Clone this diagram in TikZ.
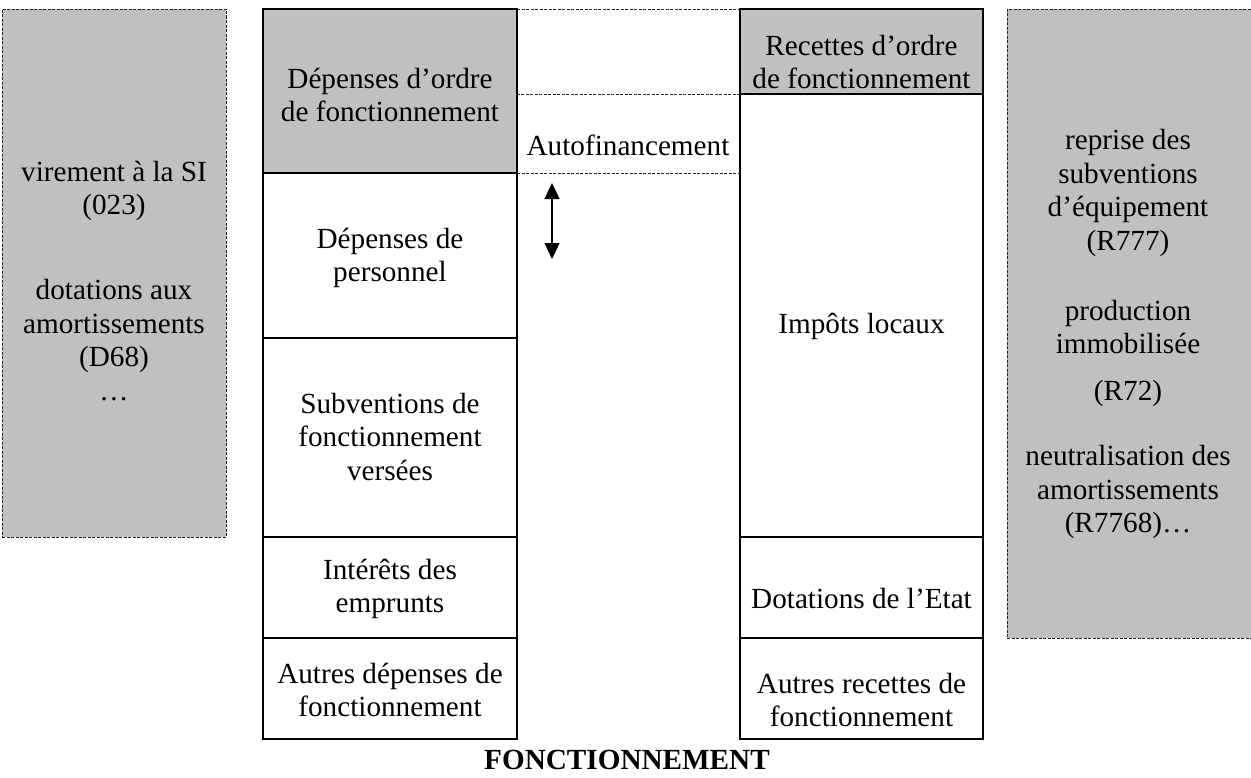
\documentclass[tikz,border=0pt]{standalone}
\usepackage{fontspec}
\setmainfont{Liberation Serif}
\usetikzlibrary{arrows.meta,fit}
\definecolor{silver}{RGB}{192,192,192}
\begin{document}
\begin{tikzpicture}[x=0.5pt,y=-0.5pt,
  every node/.style={inner sep=0pt, outer sep=0pt},
  cell/.style={draw, line width=1pt},
  shaded/.style={cell, fill=silver},
  ordre/.style={draw=black!85, fill=silver, line width=0.5pt, dash pattern=on 1.5pt off 0.75pt},
  sep/.style={draw=black!85, line width=0.5pt, dash pattern=on 1.5pt off 0.75pt},
  txt/.style={font=\fontsize{14.6}{16.8}\selectfont, align=center},
  title/.style={font=\fontsize{14.6}{16.8}\selectfont\bfseries},
  dbl/.style={{Triangle[length=8pt,width=7.5pt]}-{Triangle[length=8pt,width=7.5pt]}, line width=0.6pt}
]
\useasboundingbox (0,0) rectangle (1251,777);
% gray "ordre" boxes
\node[ordre, fit={(2,9) (226,537)}] (gl) {};
\node[ordre, fit={(1007,9) (1253,638)}] (gr) {};
% left column
\node[shaded, fit={(263,9) (517,173)}] (d1) {};
\node[cell, fit={(263,173) (517,338)}] (d2) {};
\node[cell, fit={(263,338) (517,537)}] (d3) {};
\node[cell, fit={(263,537) (517,638)}] (d4) {};
\node[cell, fit={(263,638) (517,739)}] (d5) {};
% right column
\node[shaded, fit={(740,9) (983,94)}] (r1) {};
\node[cell, fit={(740,94) (983,537)}] (r2) {};
\node[cell, fit={(740,537) (983,638)}] (r3) {};
\node[cell, fit={(740,638) (983,739)}] (r4) {};
% dashed separators in the middle
\draw[sep] (d1.north east) -- (r1.north west);
\draw[sep] (r1.south west) -- (r1.south west -| d1.east);
\draw[sep] (d1.south east) -- (d1.south east -| r1.west);
% texts
\node[txt] (tgl1) at (114,191) {virement à la SI\\(023)};
\node[txt] (tgl2) at (114,340) {dotations aux\\amortissements\\(D68)\\…};
\node[txt] (td1) at (390,95) {Dépenses d’ordre\\de fonctionnement};
\node[txt] (td2) at (390,258) {Dépenses de\\personnel};
\node[txt] (td3) at (390,437) {Subventions de\\fonctionnement\\versées};
\node[txt] (td4) at (390,589) {Intérêts des\\emprunts};
\node[txt] (td5) at (390,690) {Autres dépenses de\\fonctionnement};
\node[txt] (taf) at (628,145) {Autofinancement};
\node[txt] (tr1) at (861.5,62) {Recettes d’ordre\\de fonctionnement};
\node[txt] (tr2) at (861.5,326) {Impôts locaux};
\node[txt] (tr3) at (861.5,598) {Dotations de l’Etat};
\node[txt] (tr4) at (861.5,700) {Autres recettes de\\fonctionnement};
\node[txt] (tgr1) at (1128,193) {reprise des\\subventions\\d’équipement\\(R777)};
\node[txt] (tgr2) at (1128,327) {production\\immobilisée};
\node[txt] (tgr3) at (1128,393) {(R72)};
\node[txt] (tgr4) at (1128,492) {neutralisation des\\amortissements\\(R7768)…};
% arrow
\coordinate (a1) at (552,183);
\coordinate (a2) at (552,259);
\draw[dbl] (a1) -- (a2);
% title
\node[title] (ttl) at (627,760) {FONCTIONNEMENT};
\end{tikzpicture}
\end{document}
